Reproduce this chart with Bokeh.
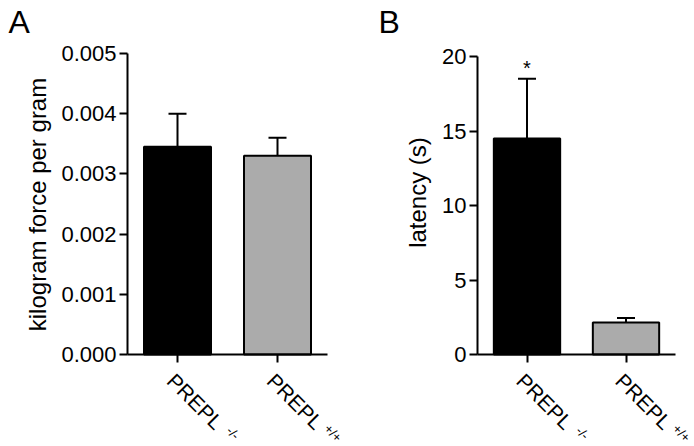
import math
from bokeh.plotting import figure
from bokeh.models import Range1d, FixedTicker, Label, ColumnDataSource, Whisker
from bokeh.layouts import row
from bokeh.embed import file_html
from bokeh.resources import INLINE

categories = ["PREPL-/-", "PREPL+/+"]
main_labels = ["PREPL", "PREPL"]
sup_labels = ["-/-", "+/+"]
bar_colors = ["#000000", "#ababab"]

force_mean = [0.00345, 0.00330]
force_upper = [0.00400, 0.00360]
force_ticks = [0.0, 0.001, 0.002, 0.003, 0.004, 0.005]
force_tick_labels = ["0.000", "0.001", "0.002", "0.003", "0.004", "0.005"]

lat_mean = [14.5, 2.15]
lat_upper = [18.5, 2.45]
lat_ticks = [0, 5, 10, 15, 20]
lat_tick_labels = ["0", "5", "10", "15", "20"]
lat_star = ["*", ""]

FONT = "Liberation Sans"
W = 347
H = 446
ZERO = 354       # pixel row of value 0 inside each figure


def make_panel(letter, letter_px, ylabel, ylabel_px, means, uppers, ticks, tick_labels,
               ymax, x0, frame_w, top, stars=None):
    n = len(categories)
    xs = [i + 0.5 for i in range(n)]
    ppu = frame_w / n                       # px per category unit
    ppv = (ZERO - top) / ymax               # px per value unit

    def dx(px):
        return (px - x0) / ppu

    def dy(py):
        return (ZERO - py) / ppv

    p = figure(width=W, height=H, title=None,
               x_range=Range1d(dx(0), dx(W)), y_range=Range1d(dy(H), dy(0)),
               output_backend="svg", toolbar_location=None,
               min_border_left=0, min_border_right=0, min_border_top=0, min_border_bottom=0)
    p.outline_line_color = None
    p.grid.visible = False

    src = ColumnDataSource(dict(x=xs, top=means, upper=uppers, base=means,
                                color=bar_colors))
    p.vbar(x="x", top="top", width=0.67, fill_color="color", line_color="black",
           line_width=2, source=src)
    w = Whisker(base="x", upper="upper", lower="base", source=src,
                line_color="black", line_width=2)
    w.upper_head.size = 18
    w.upper_head.line_width = 2
    w.lower_head = None
    p.add_layout(w)

    ya = p.yaxis[0]
    ya.fixed_location = 0
    ya.bounds = (0, ymax)
    ya.ticker = FixedTicker(ticks=ticks)
    ya.major_label_overrides = {t: l for t, l in zip(ticks, tick_labels)}
    ya.major_label_text_font = FONT
    ya.major_label_text_font_size = "22px"
    ya.major_label_text_color = "black"
    ya.major_label_standoff = 3
    ya.minor_tick_line_color = None
    ya.major_tick_out = 8
    ya.major_tick_in = 0
    ya.axis_line_width = 2
    ya.major_tick_line_width = 2

    xa = p.xaxis[0]
    xa.fixed_location = 0
    xa.bounds = (0, n)
    xa.ticker = FixedTicker(ticks=xs)
    xa.major_label_overrides = {x: "" for x in xs}
    xa.minor_tick_line_color = None
    xa.major_tick_out = 8
    xa.major_tick_in = 0
    xa.axis_line_width = 2
    xa.major_tick_line_width = 2

    # y-axis title
    p.add_layout(Label(x=dx(ylabel_px[0]), y=dy(ylabel_px[1]), text=ylabel, angle=math.pi / 2,
                       text_align="center", text_baseline="middle", text_font=FONT,
                       text_font_size="24px", text_color="black"))
    # panel letter
    p.add_layout(Label(x=dx(letter_px[0]), y=dy(letter_px[1]), text=letter,
                       text_align="left", text_baseline="alphabetic", text_font=FONT,
                       text_font_size="32px", text_color="black"))

    ang = -math.pi / 4
    for x, m, s in zip(xs, main_labels, sup_labels):
        p.add_layout(Label(x=x, y=0, x_offset=1.5, y_offset=-14.5, text=m, angle=ang,
                           text_align="left", text_baseline="top",
                           text_font=FONT, text_font_size="21px", text_color="black"))
        p.add_layout(Label(x=x, y=0, x_offset=55.5, y_offset=-78.5,
                           text=s, angle=ang, text_align="center", text_baseline="middle",
                           text_font=FONT, text_font_size="13px", text_color="black"))
    if stars:
        for x, u, s in zip(xs, uppers, stars):
            if s:
                p.add_layout(Label(x=x, y=u, y_offset=0, text=s, text_align="center",
                                   text_baseline="bottom", text_font=FONT,
                                   text_font_size="20px", text_color="black"))
    return p


pa = make_panel("A", (8, 21), "kilogram force per gram", (37, 204),
                force_mean, force_upper, force_ticks, force_tick_labels, 0.005, 127, 200, 53)
pb = make_panel("B", (31, 21), "latency (s)", (69.5, 192),
                lat_mean, lat_upper, lat_ticks, lat_tick_labels, 20, 130, 198, 56,
                stars=lat_star)

layout = row(pa, pb)
open("out.html", "w").write(file_html(layout, INLINE))
